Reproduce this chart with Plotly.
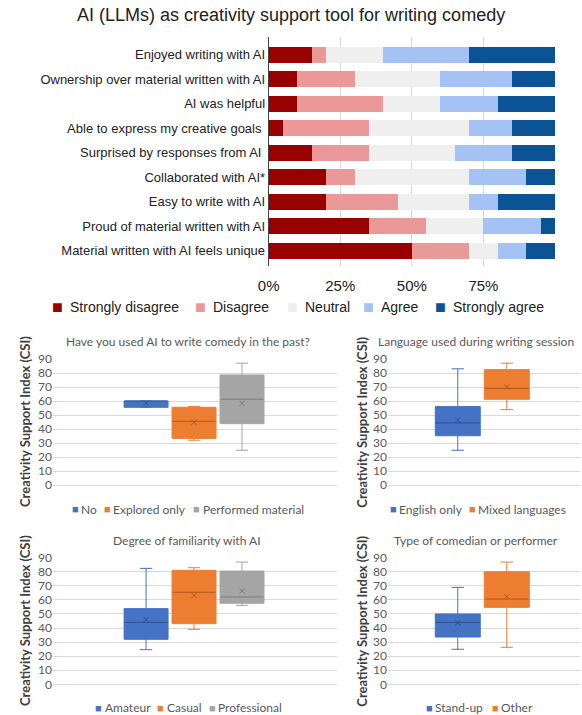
import plotly.graph_objects as go

W, H = 582, 715

# ---------------- Data: Likert stacked bars (percent of respondents) ----------------
statements = [
    "Enjoyed writing with AI",
    "Ownership over material written with AI",
    "AI was helpful",
    "Able to express my creative goals\u00a0",
    "Surprised by responses from AI\u00a0",
    "Collaborated with AI*",
    "Easy to write with AI",
    "Proud of material written with AI",
    "Material written with AI feels unique",
]
likert_levels = ["Strongly disagree", "Disagree", "Neutral", "Agree", "Strongly agree"]
strongly_disagree = [15, 10, 10, 5, 15, 20, 20, 35, 50]
disagree          = [5, 20, 30, 30, 20, 10, 25, 20, 20]
neutral           = [20, 30, 20, 35, 30, 40, 25, 20, 10]
agree             = [30, 25, 20, 15, 20, 20, 10, 20, 10]
strongly_agree    = [30, 15, 20, 15, 15, 10, 20, 5, 10]
pct_ticks = [0, 25, 50, 75, 100]
pct_ticktext = ["0%", "25%", "50%", "75%", ""]

# ---------------- Data: CSI box plots (summary statistics) ----------------
p1_title = "Have you used AI to write comedy in the past?"
p1_groups = ["No", "Explored only", "Performed material"]
p1_q1 = [55.5, 33.3, 43.8]
p1_med = [60.0, 45.5, 61.2]
p1_q3 = [60.0, 55.5, 78.6]
p1_lo = [55.5, 32.0, 24.8]
p1_hi = [60.0, 56.0, 87.0]
p1_mean = [58.3, 44.8, 58.3]

p2_title = "Language used during writing session"
p2_groups = ["English only", "Mixed languages"]
p2_q1 = [35.2, 61.2]
p2_med = [44.3, 69.0]
p2_q3 = [56.0, 82.4]
p2_lo = [24.8, 53.8]
p2_hi = [83.0, 87.0]
p2_mean = [46.4, 70.0]

p3_title = "Degree of familiarity with AI"
p3_groups = ["Amateur", "Casual", "Professional"]
p3_q1 = [32.0, 43.1, 57.6]
p3_med = [44.0, 65.4, 62.1]
p3_q3 = [53.8, 81.0, 80.5]
p3_lo = [24.6, 39.1, 56.1]
p3_hi = [82.4, 82.9, 86.9]
p3_mean = [46.0, 63.2, 66.3]

p4_title = "Type of comedian or performer"
p4_groups = ["Stand-up", "Other"]
p4_q1 = [33.6, 54.7]
p4_med = [44.0, 60.6]
p4_q3 = [50.0, 80.0]
p4_lo = [24.9, 26.3]
p4_hi = [68.9, 86.9]
p4_mean = [43.8, 62.3]

csi_ticks = [0, 10, 20, 30, 40, 50, 60, 70, 80, 90]
y_title = "Creativity Support Index (CSI)"

# ---------------- Styles ----------------
likert_colors = ["#990000", "#EA9999", "#EFEFEF", "#A4C2F4", "#0B5394"]
box_fill = ["#4472C4", "#ED7D31", "#A5A5A5"]
box_dark = ["#2F528F", "#B5581C", "#7F7F7F"]
ARIAL = "Liberation Sans, Arial, sans-serif"
CAL = "Lato, Carlito, Calibri, sans-serif"
GRID = "#D9D9D9"
TXT = "#595959"


def px_x(p):
    return p / W


def px_y(p):
    return 1 - p / H


fig = go.Figure()

# ---- stacked bars
for level, vals, col in zip(likert_levels,
                            [strongly_disagree, disagree, neutral, agree, strongly_agree],
                            likert_colors):
    fig.add_trace(go.Bar(
        y=statements, x=vals, name=level, orientation="h",
        marker=dict(color=col, line=dict(width=0)),
        xaxis="x", yaxis="y", showlegend=False,
    ))

# ---- box panels
panels = [
    (p1_groups, p1_q1, p1_med, p1_q3, p1_lo, p1_hi, p1_mean, "2", 44),
    (p2_groups, p2_q1, p2_med, p2_q3, p2_lo, p2_hi, p2_mean, "3", 45),
    (p3_groups, p3_q1, p3_med, p3_q3, p3_lo, p3_hi, p3_mean, "4", 44),
    (p4_groups, p4_q1, p4_med, p4_q3, p4_lo, p4_hi, p4_mean, "5", 45),
]
SPACING = {"2": 48.0, "3": 49.0, "4": 48.0, "5": 49.0}

for groups, q1, med, q3, lo, hi, mean, k, bw_px in panels:
    bw = bw_px / SPACING[k]
    for i, g in enumerate(groups):
        fig.add_trace(go.Box(
            x=[i], q1=[q1[i]], median=[med[i]], q3=[q3[i]],
            lowerfence=[lo[i]], upperfence=[hi[i]],
            name=g, width=bw, whiskerwidth=0.28, showlegend=False,
            fillcolor=box_fill[i], line=dict(color=box_fill[i], width=1),
            xaxis="x" + k, yaxis="y" + k,
        ))
        fig.add_trace(go.Scatter(
            x=[i], y=[med[i]], mode="markers", showlegend=False,
            marker=dict(symbol="line-ew", size=(bw_px - 1) / 1.4,
                        line=dict(color=box_dark[i], width=1)),
            xaxis="x" + k, yaxis="y" + k, hoverinfo="skip",
        ))
        fig.add_trace(go.Scatter(
            x=[i], y=[mean[i]], mode="markers", showlegend=False,
            marker=dict(symbol="x-thin", size=5,
                        line=dict(color=box_dark[i], width=1)),
            xaxis="x" + k, yaxis="y" + k, hoverinfo="skip",
        ))

layout = dict(
    width=W, height=H, margin=dict(l=0, r=0, t=0, b=0, autoexpand=False),
    paper_bgcolor="white", plot_bgcolor="white",
    barmode="stack", bargap=0.35,
    font=dict(family=ARIAL, color="#222222"),
    showlegend=False,
)

layout["xaxis"] = dict(
    domain=[px_x(268.7), px_x(555)], range=[0, 100],
    tickvals=pct_ticks, ticktext=pct_ticktext, showgrid=True, gridcolor=GRID,
    gridwidth=1, zeroline=False, ticks="", ticklabelstandoff=9,
    tickfont=dict(family=ARIAL, size=15, color="#222222"), anchor="y",
    fixedrange=True, automargin=False,
)
layout["yaxis"] = dict(
    domain=[px_y(266), px_y(37)], range=[8.63, -0.73],
    showline=True, linecolor="#444444", linewidth=1, showgrid=False,
    ticks="", tickfont=dict(family=ARIAL, size=13, color="#222222"),
    anchor="x", fixedrange=True, automargin=False,
)

geo = {
    "2": ([53, 337], [359, 485], [-1.94, 3.98]),
    "3": ([388, 580], [359, 485], [-1.424, 2.494]),
    "4": ([53, 337], [557.7, 684.3], [-1.94, 3.98]),
    "5": ([388, 580], [557.7, 684.3], [-1.424, 2.494]),
}
for k, (xd, yd, xr) in geo.items():
    layout["xaxis" + k] = dict(
        domain=[px_x(xd[0]), px_x(xd[1])], range=xr, showticklabels=False,
        showgrid=False, zeroline=False, showline=False, ticks="",
        anchor="y" + k, fixedrange=True, automargin=False,
    )
    layout["yaxis" + k] = dict(
        domain=[px_y(yd[1]), px_y(yd[0])], range=[0, 90], tickvals=csi_ticks,
        showgrid=True, gridcolor=GRID, gridwidth=1, zeroline=True,
        zerolinecolor=GRID, zerolinewidth=1, showline=False, ticks="",
        tickfont=dict(family=CAL, size=12, color=TXT),
        anchor="x" + k, fixedrange=True, automargin=False,
    )

ann = [
    dict(text="AI (LLMs) as creativity support tool for writing comedy",
         x=0.5, y=px_y(15), xref="paper", yref="paper", showarrow=False,
         xanchor="center", yanchor="middle",
         font=dict(family=ARIAL, size=18, color="#222222")),
]
titles = [(p1_title, 187.5, 341), (p2_title, 475.5, 341), (p3_title, 187, 540), (p4_title, 476, 540)]
for t, tx, ty in titles:
    ann.append(dict(text=t, x=px_x(tx), y=px_y(ty), xref="paper", yref="paper",
                    showarrow=False, xanchor="center", yanchor="middle",
                    font=dict(family=CAL, size=12, color=TXT)))
for yx, yy in [(25, 422), (361.7, 422), (25, 621), (361.7, 621)]:
    ann.append(dict(text="<b>" + y_title + "</b>", x=px_x(yx), y=px_y(yy), xref="paper",
                    yref="paper", showarrow=False, textangle=-90, xanchor="center",
                    yanchor="middle", font=dict(family=CAL, size=13, color="#404040")))


# ---- legends: a coloured square glyph right before each label
def legend_entries(labels, colors, text_x, y, font, size, color, sq_size, sq_gap):
    out = []
    for lab, col, tx in zip(labels, colors, text_x):
        out.append(dict(text="\u25A0", x=px_x(tx - sq_gap), y=px_y(y), xref="paper",
                        yref="paper", showarrow=False, xanchor="right", yanchor="middle",
                        borderpad=0, borderwidth=0,
                        font=dict(family="Liberation Sans", size=sq_size, color=col)))
        out.append(dict(text=lab, x=px_x(tx), y=px_y(y), xref="paper", yref="paper",
                        showarrow=False, xanchor="left", yanchor="middle",
                        borderpad=0, borderwidth=0,
                        font=dict(family=font, size=size, color=color)))
    return out


ann += legend_entries(likert_levels, likert_colors, [69.7, 213.3, 304.9, 381.3, 453.3],
                      306.7, ARIAL, 14, "#222222", 18, 7)
ann += legend_entries(p1_groups, box_fill, [81, 113.3, 202.7], 509, CAL, 12, TXT, 11, 2.5)
ann += legend_entries(p2_groups, box_fill, [399, 478.3], 509, CAL, 12, TXT, 11, 2.5)
ann += legend_entries(p3_groups, box_fill, [104.7, 166.7, 218.3], 707.7, CAL, 12, TXT, 11, 2.5)
ann += legend_entries(p4_groups, box_fill, [435, 501], 707.7, CAL, 12, TXT, 11, 2.5)
layout["annotations"] = ann

fig.update_layout(**layout)
fig.write_html("out.html", config={"displayModeBar": False, "staticPlot": True},
               post_script="document.body.style.margin='0px';document.body.style.padding='0px';")
